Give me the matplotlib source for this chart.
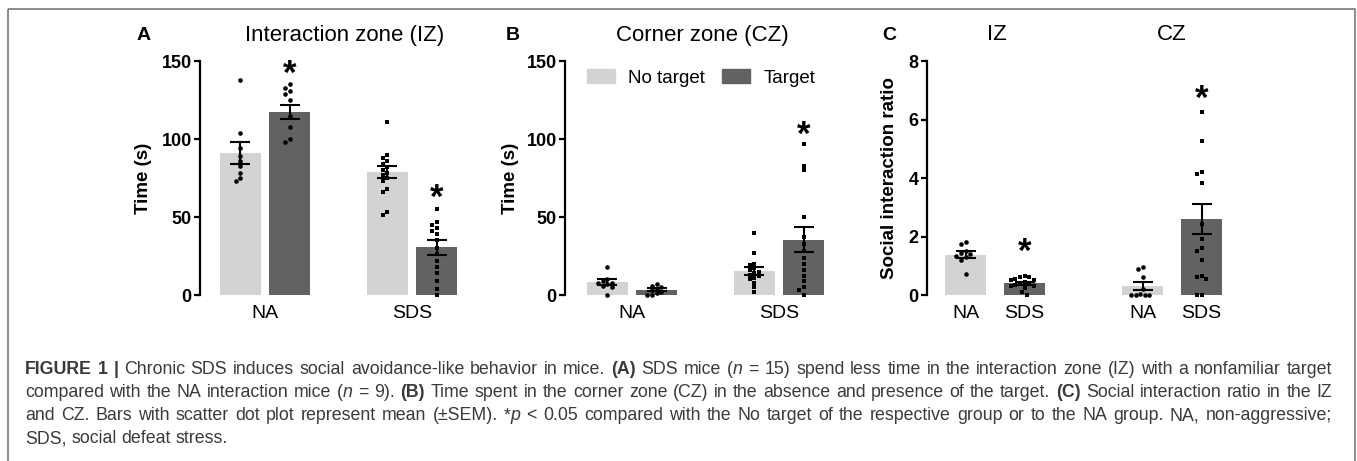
import numpy as np
import matplotlib
matplotlib.use('Agg')
import matplotlib.pyplot as plt
from matplotlib.patches import Patch, Rectangle
from matplotlib.transforms import Affine2D, offset_copy

plt.rcParams['font.family'] = ['Liberation Sans', 'DejaVu Sans']

W, H = 1357, 461

light = '#d3d3d3'
dark = '#626262'

groups = ['NA', 'SDS']
conditions = ['No target', 'Target']

# A: time in interaction zone (s); bar order NA/no target, NA/target, SDS/no target, SDS/target
iz_mean = [91.0, 117.5, 78.7, 30.5]
iz_sem = [7.0, 4.5, 3.9, 4.7]
iz_points = [
    [138, 104, 94, 89, 86, 83, 78, 75, 73],
    [135, 133, 131, 129, 125, 115, 108, 100, 98],
    [111, 90, 88, 86, 84, 82, 80, 78, 77, 75, 73, 68, 66, 53, 51],
    [55, 47, 45, 43, 41, 39, 35, 30, 26, 22, 18, 14, 9, 4, 0],
]
iz_star = [None, 145, None, 65.5]

# B: time in corner zone (s)
cz_mean = [8.2, 3.5, 15.2, 35.5]
cz_sem = [1.8, 0.9, 2.6, 7.8]
cz_points = [
    [18, 10, 9, 8, 8, 7, 6, 5, 0],
    [7, 6, 5, 4, 3, 2, 1, 0, 0],
    [40, 27, 20, 19, 17, 16, 15, 14, 13, 12, 11, 10, 8, 5, 2],
    [97, 83, 80, 50, 37, 33, 28, 24, 20, 16, 12, 9, 5, 3, 0],
]
cz_star = [None, None, None, 106]

# C: social interaction ratio; order IZ/NA, IZ/SDS, CZ/NA, CZ/SDS
ratio_zones = ['IZ', 'CZ']
ratio_labels = ['NA', 'SDS', 'NA', 'SDS']
ratio_mean = [1.38, 0.40, 0.30, 2.60]
ratio_sem = [0.11, 0.06, 0.13, 0.50]
ratio_points = [
    [1.82, 1.75, 1.5, 1.45, 1.4, 1.35, 1.3, 1.2, 0.71],
    [0.65, 0.6, 0.6, 0.55, 0.5, 0.5, 0.45, 0.4, 0.4, 0.35, 0.3, 0.3, 0.25, 0.1, 0.0],
    [0.95, 0.88, 0.6, 0.2, 0.05, 0, 0, 0, 0],
    [6.24, 5.28, 4.2, 4.15, 3.84, 2.42, 1.9, 1.6, 1.5, 1.2, 0.65, 0.6, 0.55, 0, 0],
]
ratio_star = [None, 1.65, None, 6.9]

caption = [
    "^FIGURE 1 |^ Chronic SDS induces social avoidance-like behavior in mice. ^(A)^ SDS mice (~n~ = 15) spend less time in the interaction zone (IZ) with a nonfamiliar target",
    "compared with the NA interaction mice (~n~ = 9). ^(B)^ Time spent in the corner zone (CZ) in the absence and presence of the target. ^(C)^ Social interaction ratio in the IZ",
    "and CZ. Bars with scatter dot plot represent mean (\u00b1SEM). *~p~ < 0.05 compared with the No target of the respective group or to the NA group. NA, non-aggressive;",
    "SDS, social defeat stress.",
]


def swarm(vals, ppu_x, ppu_y, d=4.6):
    """spread overlapping points sideways, like a scatter dot plot"""
    placed = []
    offs = []
    cands = [0.0]
    for i in range(1, 12):
        cands += [-i * d / 2, i * d / 2]
    for v in vals:
        y = v * ppu_y
        for c in cands:
            if all((c - px) ** 2 + (y - py) ** 2 >= d * d for px, py in placed):
                break
        placed.append((c, y))
        offs.append(c / ppu_x)
    return offs


def draw_bars(ax, xs, width, means, sems, points, stars, markers, colors, ppu_x, ppu_y):
    ax.bar(xs, means, width=width, color=colors, zorder=1)
    for x, pts, m in zip(xs, points, markers):
        offs = swarm(pts, ppu_x, ppu_y)
        ax.plot(np.array(offs) + x, pts, ls='none', marker=m, color='black',
                ms=3.3 if m == 'o' else 3.1, mew=0, zorder=3, clip_on=False)
    ax.errorbar(xs, means, yerr=sems, fmt='none', ecolor='black', elinewidth=1.5,
                capsize=7.5, capthick=1.5, zorder=4)
    fs = 25
    # asterisk ink sits high in the glyph box, shift baseline so the ink is centred on s
    tr = offset_copy(ax.transData, fig=ax.figure, y=-0.44 * fs, units='points')
    for x, s in zip(xs, stars):
        if s is not None:
            ax.text(x, s, '*', transform=tr, ha='center', va='baseline',
                    fontsize=fs, fontweight='bold')


def style_axis(ax, ymax, step):
    ax.set_ylim(0, ymax)
    ax.set_yticks(np.arange(0, ymax + step / 2, step))
    for s in ['top', 'right', 'bottom']:
        ax.spines[s].set_visible(False)
    ax.spines['left'].set_linewidth(1.6)
    ax.tick_params(axis='y', length=4.5, width=1.6, pad=1.5, labelsize=13)
    ax.tick_params(axis='x', length=0, pad=7, labelsize=14)
    for lab in ax.get_yticklabels():
        lab.set_fontweight('bold')


fig = plt.figure(figsize=(W / 100, H / 100), dpi=100)
pix = Affine2D().scale(1 / W, -1 / H).translate(0, 1) + fig.transFigure

y0, y1 = 295, 61
ppu_ab = 147.0
off = 0.1667
bw = 41 / ppu_ab
xs_ab = [-off, off, 1 - off, 1 + off]
cols = [light, dark, light, dark]
mk_ab = ['o', 'o', 's', 's']

# panel A
axA = fig.add_axes([200 / W, (H - y0) / H, 259 / W, (y0 - y1) / H])
style_axis(axA, 150, 50)
axA.set_xlim(-65 / ppu_ab, -65 / ppu_ab + 259 / ppu_ab)
draw_bars(axA, xs_ab, bw, iz_mean, iz_sem, iz_points, iz_star, mk_ab, cols,
          ppu_ab, (y0 - y1) / 150)
axA.set_xticks([0, 1])
axA.set_xticklabels(groups)

# panel B
axB = fig.add_axes([565 / W, (H - y0) / H, 261 / W, (y0 - y1) / H])
style_axis(axB, 150, 50)
axB.set_xlim(-67 / ppu_ab, -67 / ppu_ab + 261 / ppu_ab)
draw_bars(axB, xs_ab, bw, cz_mean, cz_sem, cz_points, cz_star, mk_ab, cols,
          ppu_ab, (y0 - y1) / 150)
axB.set_xticks([0, 1])
axB.set_xticklabels(groups)
handles = [Patch(color=light), Patch(color=dark)]
axB.legend(handles, conditions, ncol=2, loc='center left',
           bbox_to_anchor=(22 / 261, (y0 - 78) / (y0 - y1)), frameon=False,
           fontsize=13.5, handlelength=1.5, handleheight=0.75,
           handletextpad=0.7, columnspacing=0.9, borderpad=0, borderaxespad=0)

# panel C
ppu_c = 59.0
xs_c = [0, 1, 3, 4]
axC = fig.add_axes([926.7 / W, (H - y0) / H, 296 / W, (y0 - y1) / H])
style_axis(axC, 8, 2)
axC.set_xlim(-38.8 / ppu_c, -38.8 / ppu_c + 296 / ppu_c)
draw_bars(axC, xs_c, 41 / ppu_c, ratio_mean, ratio_sem, ratio_points, ratio_star,
          ['o', 's', 'o', 's'], cols, ppu_c, (y0 - y1) / 8)
axC.set_xticks(xs_c)
axC.set_xticklabels(ratio_labels)

# titles, panel letters, y labels
fig.text(345, 35, 'Interaction zone (IZ)', transform=pix, ha='center', va='center', fontsize=16)
fig.text(702, 35, 'Corner zone (CZ)', transform=pix, ha='center', va='center', fontsize=16)
for zx, z in zip([996.7, 1171.7], ratio_zones):
    fig.text(zx, 35, z, transform=pix, ha='center', va='center', fontsize=16)
for lx, letter in zip([137, 506, 882], ['A', 'B', 'C']):
    fig.text(lx, 35, letter, transform=pix, ha='left', va='center', fontsize=14, fontweight='bold')
for lx, lab in zip([143, 510.5, 890], ['Time (s)', 'Time (s)', 'Social interaction ratio']):
    fig.text(lx, 178, lab, transform=pix, ha='center', va='center', rotation=90,
             fontsize=13.5, fontweight='bold')

# outer frame
fig.add_artist(Rectangle((8, 9), 1347, 500, transform=pix, fill=False,
                         edgecolor='#6e6e6e', lw=1.1, clip_on=True))


# caption, justified word by word so the bold / italic bits stay real text
def parse(line):
    words = []
    bold = italic = False
    for tok in line.split(' '):
        segs = []
        buf = ''
        for ch in tok:
            if ch in '^~':
                if buf:
                    segs.append((buf, bold, italic))
                    buf = ''
                if ch == '^':
                    bold = not bold
                else:
                    italic = not italic
            else:
                buf += ch
        if buf:
            segs.append((buf, bold, italic))
        words.append(segs)
    return words


renderer = fig.canvas.get_renderer()
cap_x0, cap_x1 = 25, 1332
cap_col = '#3a3a3a'


def space_width(fs):
    a = fig.text(0, 0, 'a a', fontsize=fs)
    b = fig.text(0, 0, 'aa', fontsize=fs)
    w = a.get_window_extent(renderer).width - b.get_window_extent(renderer).width
    a.remove()
    b.remove()
    return w


def set_caption(fs, place=True):
    space = space_width(fs)
    natural = []
    for i, line in enumerate(caption):
        base = 374 + 23 * i
        words = parse(line)
        made = []
        widths = []
        for segs in words:
            arts = []
            for txt, b, it in segs:
                t = fig.text(0, base, txt, transform=pix, ha='left', va='baseline',
                             fontsize=fs, color=cap_col,
                             fontweight='bold' if b else 'normal',
                             fontstyle='italic' if it else 'normal')
                arts.append((t, t.get_window_extent(renderer).width))
            made.append(arts)
            widths.append(sum(w for _, w in arts))
        natural.append(sum(widths) + space * (len(words) - 1))
        if not place:
            for arts in made:
                for t, _ in arts:
                    t.remove()
            continue
        if i < len(caption) - 1:
            gap = (cap_x1 - cap_x0 - sum(widths)) / (len(words) - 1)
        else:
            gap = space
        x = cap_x0
        for arts in made:
            for t, w in arts:
                t.set_x(x)
                x += w
            x += gap
    return natural


nat = set_caption(11.5, place=False)
cap_fs = 11.5 * (cap_x1 - cap_x0 - 8) / max(nat[:3])
set_caption(cap_fs)

fig.savefig('out.png', dpi=100)
